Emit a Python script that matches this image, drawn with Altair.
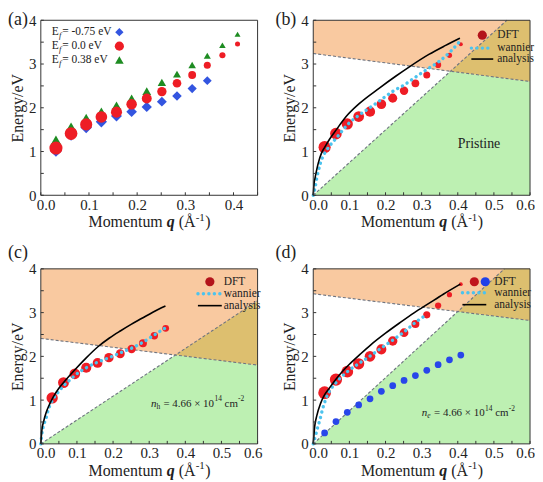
import altair as alt
import pandas as pd

FONT = "Liberation Serif"
W, H = 218, 176
TXT = "#222222"
WAN = "#4CC3EE"
RED = "#EE1D25"
DASH = "#6E7480"
ORANGE, GREEN, OLIVE = "#F9C9A0", "#BDF0B2", "#DDBF6F"

# ---------------- data ----------------
q_dft = [0.0314, 0.0628, 0.0942, 0.1257, 0.1571, 0.1885, 0.2199,
         0.2513, 0.2827, 0.3142, 0.3456, 0.3770, 0.4084]

# (a)
a_labels = ["= -0.75 eV", "= 0.0 eV", "= 0.38 eV"]
a_E_neg = [1.02, 1.38, 1.55, 1.68, 1.81, 1.91, 2.02, 2.14, 2.27, 2.44, 2.62]
a_E_zero = [1.08, 1.41, 1.62, 1.79, 1.90, 2.08, 2.21, 2.37, 2.56, 2.75, 2.97, 3.20, 3.46]
a_E_pos = [1.26, 1.56, 1.76, 1.91, 2.05, 2.21, 2.38, 2.58, 2.77, 2.98, 3.19, 3.43, 3.68]

# (b) pristine
b_dft = [1.10, 1.41, 1.63, 1.80, 1.91, 2.08, 2.22, 2.39, 2.56, 2.75, 2.98, 3.20, 3.45]
b_wan_q = [0, 0.002, 0.005, 0.009, 0.014, 0.02, 0.027, 0.037, 0.068, 0.098, 0.128,
           0.16, 0.187, 0.219, 0.251, 0.283, 0.315, 0.347, 0.379, 0.409]
b_wan_E = [0, 0.06, 0.17, 0.36, 0.55, 0.74, 0.89, 1.03, 1.35, 1.64, 1.84,
           2.02, 2.18, 2.37, 2.52, 2.70, 2.88, 3.05, 3.28, 3.55]
b_ana_q = [0, 0.002, 0.005, 0.01, 0.014, 0.023, 0.032, 0.045, 0.064, 0.091, 0.128,
           0.183, 0.228, 0.265, 0.32, 0.365, 0.406]
b_ana_E = [0, 0.25, 0.40, 0.60, 0.74, 0.97, 1.10, 1.28, 1.50, 1.80, 2.10,
           2.45, 2.72, 2.93, 3.22, 3.42, 3.59]
b_upper = [3.24, 2.60]      # dashed boundary at q = 0 and q = 0.6
b_diag_end = [0.536, 4.0]   # end of dashed diagonal from origin

# (c) hole doped
c_dft = [1.05, 1.40, 1.60, 1.74, 1.85, 1.97, 2.06, 2.17, 2.30, 2.47, 2.64]
c_wan_q = [0, 0.003, 0.007, 0.014, 0.02, 0.027, 0.036, 0.05, 0.063, 0.079, 0.095,
           0.126, 0.158, 0.189, 0.22, 0.252, 0.284, 0.314, 0.345]
c_wan_E = [0, 0.23, 0.40, 0.57, 0.76, 0.91, 1.05, 1.20, 1.33, 1.45, 1.57,
           1.74, 1.87, 1.97, 2.08, 2.19, 2.33, 2.49, 2.65]
c_ana_q = [0, 0.003, 0.008, 0.015, 0.025, 0.035, 0.05, 0.07, 0.095, 0.125, 0.158,
           0.19, 0.22, 0.25, 0.28, 0.31, 0.345]
c_ana_E = [0, 0.32, 0.52, 0.72, 0.92, 1.08, 1.27, 1.47, 1.70, 1.96, 2.22,
           2.42, 2.58, 2.73, 2.87, 3.01, 3.15]
c_upper = [2.41, 1.80]
c_diag_end = [0.6, 3.27]

# (d) electron doped
d_red = [1.17, 1.47, 1.65, 1.83, 2.00, 2.16, 2.35, 2.54, 2.74, 2.95, 3.16, 3.41, 3.65]
d_blue = [0.25, 0.51, 0.72, 0.89, 1.03, 1.20, 1.33, 1.45, 1.56, 1.68, 1.81, 1.92, 2.03]
d_wan_q = [0, 0.005, 0.011, 0.019, 0.026, 0.035, 0.046, 0.06, 0.074, 0.093, 0.125,
           0.156, 0.185, 0.218, 0.25, 0.282, 0.313]
d_wan_E = [0, 0.15, 0.34, 0.57, 0.80, 1.03, 1.22, 1.37, 1.50, 1.64, 1.83,
           2.00, 2.17, 2.36, 2.55, 2.77, 2.95]
d_ana_q = [0, 0.004, 0.01, 0.02, 0.03, 0.045, 0.06, 0.08, 0.1, 0.13, 0.16,
           0.2, 0.24, 0.28, 0.32, 0.36, 0.407]
d_ana_E = [0, 0.40, 0.65, 0.92, 1.10, 1.28, 1.45, 1.65, 1.82, 2.05, 2.27,
           2.53, 2.77, 3.00, 3.21, 3.42, 3.65]
d_upper = [3.43, 2.82]
d_diag_end = [0.529, 4.0]

x_ticks_a = [0, 0.1, 0.2, 0.3, 0.4]
x_ticks = [0, 0.1, 0.2, 0.3, 0.4, 0.5, 0.6]
y_ticks = [0, 1, 2, 3, 4]

ONE = pd.DataFrame({"k": [0]})


def X(field, dom):
    vals = x_ticks_a if dom[1] < 0.5 else x_ticks
    return alt.X(f"{field}:Q", scale=alt.Scale(domain=dom, nice=False, zero=False),
                 axis=alt.Axis(values=vals, format=".1f", title=None, labelFlush=True,
                               labelFlushOffset=4.5))


def Y(field):
    return alt.Y(f"{field}:Q", scale=alt.Scale(domain=[0, 4], nice=False, zero=False),
                 axis=alt.Axis(values=y_ticks, format="d", title="Energy/eV"))


def ptext(t, px, py, fs=11, style="normal", weight="normal", align="left", baseline="middle"):
    return alt.Chart(ONE).mark_text(text=t, align=align, baseline=baseline, font=FONT,
                                    fontSize=fs, fontStyle=style, fontWeight=weight,
                                    color=TXT).encode(x=alt.value(px), y=alt.value(py))


def decorations(dom, label, lab_x, lab_y):
    L = []
    xt = [round(i * 0.05, 2) for i in range(int(round(dom[1] / 0.05)) + 1)]
    yt = [i * 0.5 for i in range(9)]
    L.append(alt.Chart(pd.DataFrame({"t": xt})).mark_rule(color="#333", strokeWidth=1).encode(
        x=X("t", dom), y=alt.value(H), y2=alt.value(H - 3)))
    L.append(alt.Chart(pd.DataFrame({"t": yt})).mark_rule(color="#333", strokeWidth=1).encode(
        y=Y("t"), x=alt.value(0), x2=alt.value(3)))
    L.append(alt.Chart(ONE).mark_rect(fillOpacity=0, stroke="#333", strokeWidth=1).encode(
        x=alt.value(0), x2=alt.value(W), y=alt.value(0), y2=alt.value(H)))
    x0 = W / 2 - 61
    yb = H + 32
    L.append(ptext("Momentum", x0, yb, 16, baseline="alphabetic"))
    L.append(ptext("q", x0 + 78.7, yb, 16, style="italic", weight="bold", baseline="alphabetic"))
    L.append(ptext("(Å", x0 + 90.7, yb, 16, baseline="alphabetic"))
    L.append(ptext("-1", x0 + 107.8, yb - 6.5, 11, baseline="alphabetic"))
    L.append(ptext(")", x0 + 117.3, yb, 16, baseline="alphabetic"))
    L.append(ptext(label, lab_x, lab_y, 18, baseline="top"))
    return L


def regions(upper, diag_end, dom):
    u0, u6 = upper
    qe, ee = diag_end
    s = ee / qe
    k = (u6 - u0) / 0.6
    qi = u0 / (s - k)
    ei = s * qi
    orange = pd.DataFrame({"q": [0, 0.6], "lo": [u0, u6], "hi": [4, 4]})
    green = pd.DataFrame({"q": [0, qi, 0.6], "lo": [0, 0, 0], "hi": [0, ei, u6]})
    if qe < 0.6:
        olive = pd.DataFrame({"q": [qi, qe, 0.6], "lo": [ei, u0 + k * qe, u6], "hi": [ei, 4, 4]})
    else:
        olive = pd.DataFrame({"q": [qi, 0.6], "lo": [ei, u6], "hi": [ei, ee]})
    L = []
    for d, col in ((orange, ORANGE), (green, GREEN), (olive, OLIVE)):
        L.append(alt.Chart(d).mark_area(color=col, opacity=1).encode(
            x=X("q", dom), y=Y("lo"), y2="hi:Q"))
    up = pd.DataFrame({"q": [0, 0.6], "E": [u0, u6]})
    dg = pd.DataFrame({"q": [0, qe], "E": [0, ee]})
    for d in (up, dg):
        L.append(alt.Chart(d).mark_line(color=DASH, strokeWidth=1.1, strokeDash=[3, 2]).encode(
            x=X("q", dom), y=Y("E")))
    return L


def curves(wq, wE, aq, aE, dom):
    wan = alt.Chart(pd.DataFrame({"q": wq, "E": wE})).mark_line(
        color=WAN, strokeWidth=3.4, strokeDash=[0.1, 5.4], strokeCap="round",
        interpolate="monotone").encode(x=X("q", dom), y=Y("E"))
    ana = alt.Chart(pd.DataFrame({"q": aq, "E": aE})).mark_line(
        color="black", strokeWidth=1.6, interpolate="monotone").encode(x=X("q", dom), y=Y("E"))
    return [wan, ana]


def dft_points(qs, Es, dom, rng, color=RED):
    return alt.Chart(pd.DataFrame({"q": qs, "E": Es})).mark_point(
        filled=True, shape="circle", color=color, opacity=1).encode(
        x=X("q", dom), y=Y("E"),
        size=alt.Size("q:Q", scale=alt.Scale(domain=[0.03, 0.41], range=rng), legend=None))


def line_legend(circles, rows, x_line, x_text):
    L = []
    for cx, col in circles:
        L.append(alt.Chart(ONE).mark_point(filled=True, shape="circle", size=85, color=col,
                                           opacity=1).encode(x=alt.value(cx), y=alt.value(rows[0])))
    L.append(alt.Chart(ONE).mark_rule(color=WAN, strokeWidth=3.4, strokeDash=[0.1, 5.4],
                                      strokeCap="round").encode(
        x=alt.value(x_line[0]), x2=alt.value(x_line[1]), y=alt.value(rows[1])))
    L.append(alt.Chart(ONE).mark_rule(color="black", strokeWidth=1.6).encode(
        x=alt.value(x_line[0]), x2=alt.value(x_line[1]), y=alt.value(rows[2])))
    for t, yy in zip(["DFT", "wannier", "analysis"], rows):
        L.append(ptext(t, x_text, yy, 11.5))
    return L


def density_text(q0, E0, sub, sub_style, dom):
    d = pd.DataFrame({"q": [q0], "E": [E0]})
    pieces = [("n", 0, 0, 11, "italic"), (sub, 5.6, 3, 7.5, sub_style),
              ("= 4.66 × 10", 12.5, 0, 11, "normal"), ("14", 63.8, -4.5, 7.5, "normal"),
              ("cm", 74.0, 0, 11, "normal"), ("-2", 87.6, -4.5, 7.5, "normal")]
    L = []
    for t, dx, dy, fs, st in pieces:
        L.append(alt.Chart(d).mark_text(text=t, align="left", baseline="middle", dx=dx, dy=dy,
                                        font=FONT, fontSize=fs, fontStyle=st, color=TXT).encode(
            x=X("q", dom), y=Y("E")))
    return L


# ---------------- panel (a) ----------------
dom_a = [0, 0.45]
a_layers = [
    alt.Chart(pd.DataFrame({"q": q_dft, "E": a_E_pos})).mark_point(
        filled=True, shape="triangle-up", color="#1E8C22", opacity=1).encode(
        x=X("q", dom_a), y=Y("E"),
        size=alt.Size("q:Q", scale=alt.Scale(domain=[0.03, 0.41], range=[121, 36]), legend=None)),
    alt.Chart(pd.DataFrame({"q": q_dft[:11], "E": a_E_neg})).mark_point(
        filled=True, shape="diamond", color="#3355E0", opacity=1).encode(
        x=X("q", dom_a), y=Y("E"),
        size=alt.Size("q:Q", scale=alt.Scale(domain=[0.03, 0.41], range=[150, 64]), legend=None)),
    alt.Chart(pd.DataFrame({"q": q_dft, "E": a_E_zero})).mark_point(
        filled=True, shape="circle", color=RED, opacity=1).encode(
        x=X("q", dom_a), y=Y("E"),
        size=alt.Size("q:Q", scale=alt.Scale(domain=[0.03, 0.41], range=[175, 25]), legend=None)),
]
leg_shapes = [("diamond", "#3355E0", 70), ("circle", RED, 85), ("triangle-up", "#1E8C22", 75)]
for i, (lab, (shp, col, sz)) in enumerate(zip(a_labels, leg_shapes)):
    yy = 12 + 14 * i
    a_layers.append(ptext("E", 11, yy, 11.5))
    a_layers.append(ptext("f", 18.2, yy + 3, 8.5, style="italic"))
    a_layers.append(ptext(lab, 21.5, yy, 11.5))
    a_layers.append(alt.Chart(ONE).mark_point(filled=True, shape=shp, size=sz, color=col, opacity=1)
                    .encode(x=alt.value(79), y=alt.value(yy)))
a_layers += decorations(dom_a, "(a)", -33, -9)
pa = alt.layer(*a_layers).properties(width=W, height=H).resolve_scale(size="independent")

# ---------------- panel (b) ----------------
dom = [0, 0.6]
b_layers = regions(b_upper, b_diag_end, dom)
b_layers.append(dft_points(q_dft, b_dft, dom, [150, 16]))
b_layers += curves(b_wan_q, b_wan_E, b_ana_q, b_ana_E, dom)
b_layers += line_legend([(170, "#B3141B")], [15, 28, 39], [159, 181], 185)
b_layers.append(alt.Chart(pd.DataFrame({"q": [0.40], "E": [1.17]})).mark_text(
    text="Pristine", align="left", baseline="middle", font=FONT, fontSize=14, color=TXT).encode(
    x=X("q", dom), y=Y("E")))
b_layers += decorations(dom, "(b)", -38, -9)
pb = alt.layer(*b_layers).properties(width=W, height=H)

# ---------------- panel (c) ----------------
c_layers = regions(c_upper, c_diag_end, dom)
c_layers.append(dft_points(q_dft[:11], c_dft, dom, [130, 30]))
c_layers += curves(c_wan_q, c_wan_E, c_ana_q, c_ana_E, dom)
c_layers += line_legend([(170, "#B3141B")], [13, 25, 37], [158, 182], 184)
c_layers += density_text(0.305, 0.92, "h", "normal", dom)
c_layers += decorations(dom, "(c)", -33, -25)
pc = alt.layer(*c_layers).properties(width=W, height=H)

# ---------------- panel (d) ----------------
d_layers = regions(d_upper, d_diag_end, dom)
d_layers.append(dft_points(q_dft, d_red, dom, [165, 14]))
d_layers.append(alt.Chart(pd.DataFrame({"q": q_dft, "E": d_blue})).mark_point(
    filled=True, shape="circle", color="#2846EA", opacity=1, size=46).encode(
    x=X("q", dom), y=Y("E")))
d_layers += curves(d_wan_q, d_wan_E, d_ana_q, d_ana_E, dom)
d_layers += line_legend([(162, "#C0141C"), (173, "#2040E8")], [13, 24, 36], [150, 174], 182)
d_layers += density_text(0.30, 0.70, "e", "italic", dom)
d_layers += decorations(dom, "(d)", -38, -25)
pd_ = alt.layer(*d_layers).properties(width=W, height=H)

chart = alt.concat(pa, pb, pc, pd_, columns=2, spacing={"row": 74, "column": 56}).properties(
    bounds="flush", padding={"top": 2, "left": 0, "right": 0, "bottom": 0}
).resolve_scale(
    x="independent", y="independent", size="independent"
).configure_view(strokeWidth=0).configure_axis(
    labelFont=FONT, labelFontSize=15, labelColor=TXT, titleFont=FONT, titleFontSize=16,
    titleFontWeight="normal", titleColor=TXT, ticks=False, tickSize=0, domain=False, grid=False
).configure_axisX(labelPadding=2).configure_axisY(labelPadding=5, titlePadding=3)

chart.save("out.html", embed_options={"renderer": "svg", "actions": False})
